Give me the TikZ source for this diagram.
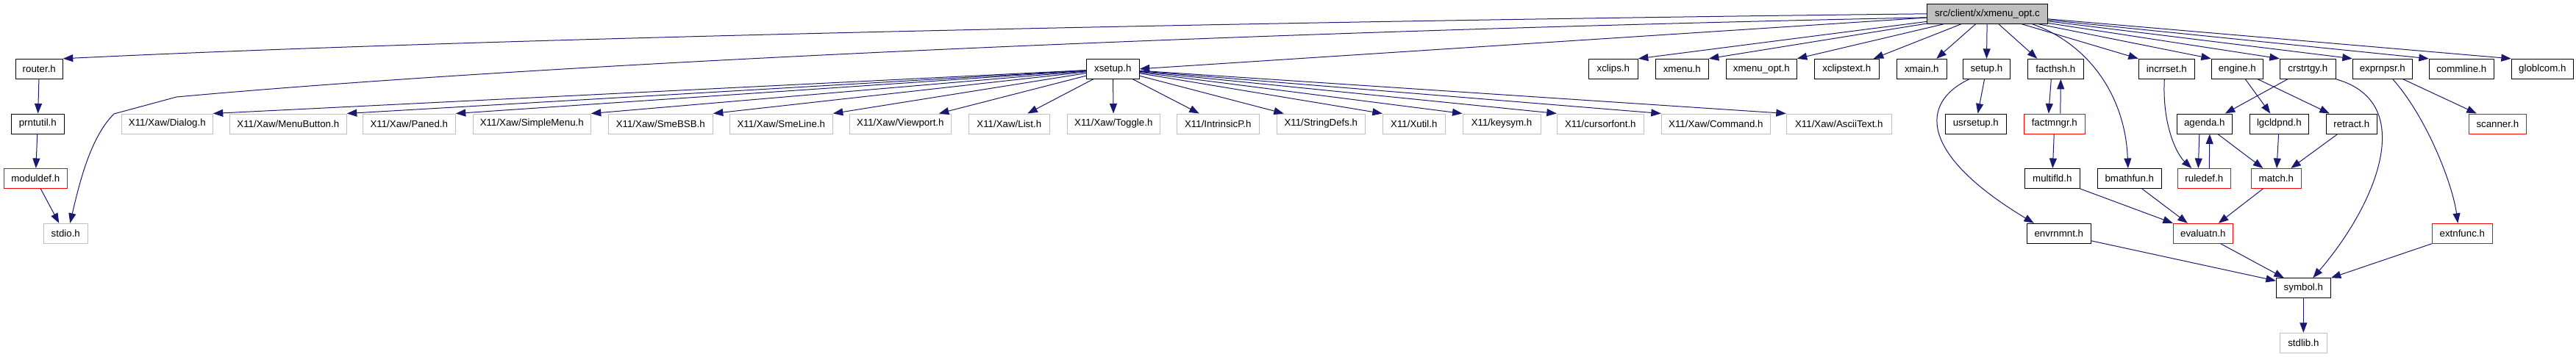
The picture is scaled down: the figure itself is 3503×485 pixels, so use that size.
\documentclass[tikz,border=0pt]{standalone}
\usepackage{fontspec}
\setmainfont{Liberation Sans}
\usetikzlibrary{arrows.meta}
\definecolor{edgeblue}{HTML}{191970}
\definecolor{boxgray}{HTML}{BFBFBF}
\begin{document}
\begin{tikzpicture}[x=1pt,y=-1pt,
  box/.style={rectangle, draw=black, line width=1pt, minimum height=27pt, inner sep=0pt,
    font=\fontsize{13.3}{15}\selectfont, text=black},
  blk/.style={box},
  redbox/.style={box, draw=red},
  graybox/.style={box, draw=boxgray},
  rootbox/.style={box, fill=boxgray},
  edge/.style={draw=edgeblue, line width=1pt, -{Triangle[length=13.5pt,width=10pt]}}
]
\useasboundingbox (0,0) rectangle (3503,485);
% rows
\def\rA{18.8}\def\rB{93.8}\def\rC{168.5}\def\rD{243}\def\rE{317.8}\def\rF{392.3}\def\rG{466.8}
\node[rootbox, minimum width=164pt] (root) at (2702.3,\rA) {src/client/x/xmenu\_opt.c};
% row 1
\node[blk, minimum width=64pt] (router) at (53.3,\rB) {router.h};
\node[blk, minimum width=72pt] (xsetup) at (1513.3,\rB) {xsetup.h};
\node[blk, minimum width=67pt] (xclips) at (2193.8,\rB) {xclips.h};
\node[blk, minimum width=72pt] (xmenu) at (2287.3,\rB) {xmenu.h};
\node[blk, minimum width=96pt] (xmenuopt) at (2395.3,\rB) {xmenu\_opt.h};
\node[blk, minimum width=88pt] (xclipstext) at (2511.3,\rB) {xclipstext.h};
\node[blk, minimum width=68pt] (xmain) at (2613.3,\rB) {xmain.h};
\node[blk, minimum width=64pt] (setup) at (2701.3,\rB) {setup.h};
\node[blk, minimum width=76pt] (facthsh) at (2795.3,\rB) {facthsh.h};
\node[blk, minimum width=76pt] (incrrset) at (2946.3,\rB) {incrrset.h};
\node[blk, minimum width=70pt] (engine) at (3042.3,\rB) {engine.h};
\node[blk, minimum width=76pt] (crstrtgy) at (3138.3,\rB) {crstrtgy.h};
\node[blk, minimum width=81pt] (exprnpsr) at (3239.8,\rB) {exprnpsr.h};
\node[blk, minimum width=88pt] (commline) at (3347.3,\rB) {commline.h};
\node[blk, minimum width=84pt] (globlcom) at (3457.3,\rB) {globlcom.h};
% row 2
\node[blk, minimum width=72pt] (prntutil) at (51.3,\rC) {prntutil.h};
\node[graybox, minimum width=124pt] (dialog) at (227.3,\rC) {X11/Xaw/Dialog.h};
\node[graybox, minimum width=159pt] (menubutton) at (391.8,\rC) {X11/Xaw/MenuButton.h};
\node[graybox, minimum width=126pt] (paned) at (556.3,\rC) {X11/Xaw/Paned.h};
\node[graybox, minimum width=160pt] (simplemenu) at (723.3,\rC) {X11/Xaw/SimpleMenu.h};
\node[graybox, minimum width=142pt] (smebsb) at (898.3,\rC) {X11/Xaw/SmeBSB.h};
\node[graybox, minimum width=140pt] (smeline) at (1062.3,\rC) {X11/Xaw/SmeLine.h};
\node[graybox, minimum width=138pt] (viewport) at (1224.3,\rC) {X11/Xaw/Viewport.h};
\node[graybox, minimum width=110pt] (list) at (1372.3,\rC) {X11/Xaw/List.h};
\node[graybox, minimum width=126pt] (toggle) at (1514.3,\rC) {X11/Xaw/Toggle.h};
\node[graybox, minimum width=112pt] (intrinsicp) at (1656.3,\rC) {X11/IntrinsicP.h};
\node[graybox, minimum width=120pt] (stringdefs) at (1796.3,\rC) {X11/StringDefs.h};
\node[graybox, minimum width=85pt] (xutil) at (1922.8,\rC) {X11/Xutil.h};
\node[graybox, minimum width=106pt] (keysym) at (2042,\rC) {X11/keysym.h};
\node[graybox, minimum width=118pt] (cursorfont) at (2176.3,\rC) {X11/cursorfont.h};
\node[graybox, minimum width=148pt] (command) at (2333.3,\rC) {X11/Xaw/Command.h};
\node[graybox, minimum width=143pt] (asciitext) at (2500.8,\rC) {X11/Xaw/AsciiText.h};
\node[blk, minimum width=83pt] (usrsetup) at (2686.8,\rC) {usrsetup.h};
\node[redbox, minimum width=83pt] (factmngr) at (2793.8,\rC) {factmngr.h};
\node[blk, minimum width=75pt] (agenda) at (2997.8,\rC) {agenda.h};
\node[blk, minimum width=80pt] (lgcldpnd) at (3099.3,\rC) {lgcldpnd.h};
\node[blk, minimum width=69pt] (retract) at (3197.8,\rC) {retract.h};
\node[redbox, minimum width=78pt] (scanner) at (3396.3,\rC) {scanner.h};
% row 3
\node[redbox, minimum width=86pt] (moduldef) at (48.3,\rD) {moduldef.h};
\node[blk, minimum width=75pt] (multifld) at (2790.8,\rD) {multifld.h};
\node[blk, minimum width=87pt] (bmathfun) at (2895.8,\rD) {bmathfun.h};
\node[redbox, minimum width=72pt] (ruledef) at (2997.3,\rD) {ruledef.h};
\node[redbox, minimum width=68pt] (match) at (3095.3,\rD) {match.h};
% row 4
\node[graybox, minimum width=60pt] (stdio) at (89.3,\rE) {stdio.h};
\node[blk, minimum width=87pt] (envrnmnt) at (2799.8,\rE) {envrnmnt.h};
\node[redbox, minimum width=81pt] (evaluatn) at (2995.8,\rE) {evaluatn.h};
\node[redbox, minimum width=82pt] (extnfunc) at (3348.3,\rE) {extnfunc.h};
% row 5, 6
\node[blk, minimum width=74pt] (symbol) at (3132.3,\rF) {symbol.h};
\node[graybox, minimum width=64pt] (stdlib) at (3132.3,\rG) {stdlib.h};

% edges from root
\draw[edge] (root.west) .. controls (1800,28) and (700,50) .. (router.north east);
\draw[edge] ([yshift=-5pt]root.west) .. controls (1600,45) and (700,90) .. (240,132) -- (155,155) .. controls (125,185) and (110,240) .. ([xshift=6pt]stdio.north);
\draw[edge] (root) -- (xsetup.east);
\draw[edge] (root) -- (xclips.north east);
\draw[edge] (root) -- (xmenu.north east);
\draw[edge] (root) -- (xmenuopt.north east);
\draw[edge] (root) -- ([xshift=-8pt]xclipstext.north east);
\draw[edge] (root) -- ([xshift=20pt]xmain.north);
\draw[edge] (root) -- (setup);
\draw[edge] (root) -- ([xshift=-25pt]facthsh.north);
\draw[edge] ([xshift=-21pt]root.south east) .. controls (2840,60) and (2890,130) .. ([xshift=-2pt]bmathfun.north);
\draw[edge] (root) -- (incrrset.north west);
\draw[edge] (root) -- (engine.north west);
\draw[edge] (root) -- (crstrtgy.north west);
\draw[edge] (root) -- (exprnpsr.north west);
\draw[edge] (root) -- (commline.north west);
\draw[edge] (root) -- (globlcom.north west);
% xsetup edges
\draw[edge] (xsetup) -- (dialog.north east);
\draw[edge] (xsetup) -- (menubutton.north east);
\draw[edge] (xsetup) -- (paned.north east);
\draw[edge] (xsetup) -- (simplemenu.north east);
\draw[edge] (xsetup) -- (smebsb.north east);
\draw[edge] (xsetup) -- (smeline.north east);
\draw[edge] (xsetup) -- ([xshift=-17pt]viewport.north east);
\draw[edge] (xsetup) -- ([xshift=25pt]list.north);
\draw[edge] (xsetup) -- (toggle);
\draw[edge] (xsetup) -- ([xshift=31pt]intrinsicp.north west);
\draw[edge] (xsetup) -- ([xshift=10pt]stringdefs.north west);
\draw[edge] (xsetup) -- (xutil.north west);
\draw[edge] (xsetup) -- (keysym.north west);
\draw[edge] (xsetup) -- (cursorfont.north west);
\draw[edge] (xsetup) -- (command.north west);
\draw[edge] (xsetup) -- (asciitext.north west);
% left chain
\draw[edge] (router) -- (prntutil);
\draw[edge] (prntutil) -- (moduldef);
\draw[edge] ([xshift=7pt]moduldef.south) -- ([xshift=-9pt]stdio.north);
% right cluster
\draw[edge] (setup) -- (usrsetup);
\draw[edge] ([xshift=9pt]setup.south west) .. controls (2610,140) and (2610,210) .. ([xshift=10pt]envrnmnt.north west);
\draw[edge] ([xshift=-6pt]facthsh.south) -- ([xshift=-8pt]factmngr.north);
\draw[edge] ([xshift=8pt]factmngr.north) -- ([xshift=7pt]facthsh.south);
\draw[edge] (factmngr) -- (multifld);
\draw[edge] ([xshift=-3pt]incrrset.south) .. controls (2940,170) and (2960,210) .. ([xshift=-17pt]ruledef.north);
\draw[edge] ([xshift=-7pt]agenda.south) -- ([xshift=-8pt]ruledef.north);
\draw[edge] ([xshift=7pt]ruledef.north) -- ([xshift=7pt]agenda.south);
\draw[edge] ([xshift=18pt]agenda.south) -- ([xshift=-18pt]match.north);
\draw[edge] ([xshift=11pt]engine.south) -- ([xshift=-12pt]lgcldpnd.north);
\draw[edge] ([xshift=28pt]engine.south) -- ([xshift=5pt]retract.north west);
\draw[edge] ([xshift=11pt]crstrtgy.south west) -- ([xshift=28pt]agenda.north);
\draw[edge] (crstrtgy.south east) .. controls (3290,140) and (3230,280) .. ([xshift=13pt]symbol.north);
\draw[edge] ([xshift=14pt]exprnpsr.south) .. controls (3300,160) and (3335,250) .. ([xshift=-6pt]extnfunc.north);
\draw[edge] ([xshift=28pt]exprnpsr.south) -- ([xshift=11pt]scanner.north west);
\draw[edge] (lgcldpnd) -- (match);
\draw[edge] ([xshift=16pt]retract.south west) -- ([xshift=20pt]match.north);
\draw[edge] (multifld.south east) -- (evaluatn.north west);
\draw[edge] ([xshift=17pt]bmathfun.south) -- ([xshift=-21pt]evaluatn.north);
\draw[edge] ([xshift=-18pt]match.south) -- ([xshift=21pt]evaluatn.north);
\draw[edge] ([yshift=4pt]envrnmnt.south east) -- ([yshift=-4pt]symbol.north west);
\draw[edge] ([xshift=24pt]evaluatn.south) -- ([xshift=11pt]symbol.north west);
\draw[edge] (extnfunc.south west) -- (symbol.north east);
\draw[edge] (symbol) -- (stdlib);
\end{tikzpicture}
\end{document}
